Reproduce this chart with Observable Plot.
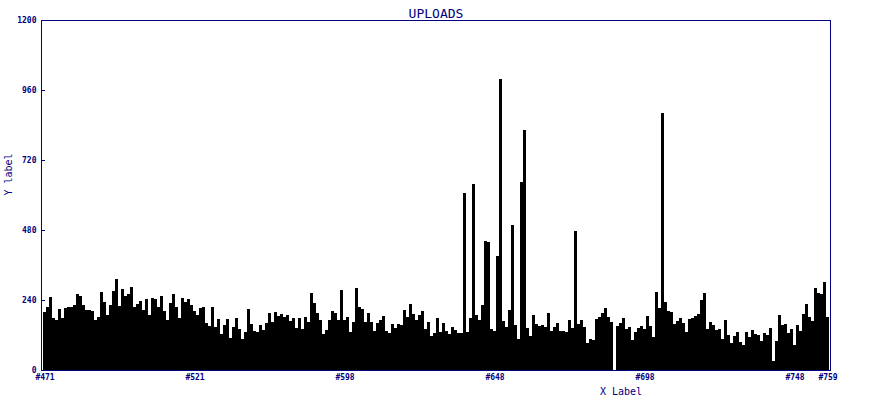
<!DOCTYPE html>
<html><head><meta charset="utf-8">
<script src="https://cdn.jsdelivr.net/npm/d3@7"></script>
<script src="https://cdn.jsdelivr.net/npm/@observablehq/plot@0.6"></script>
<style>body{margin:0;background:#fff} svg{display:block}</style>
</head><body><div id="chart"></div>
<script>
const uploads = [
  199,215,250,179,173,209,179,211,215,215,223,261,254,223,206,206,202,171,182,267,233,189,223,272,312,219,278,254,261,
  285,215,225,237,206,242,189,248,243,217,254,202,171,231,261,215,177,248,234,243,223,202,189,211,215,161,151,215,149,175,123,154,175,
  111,
  149,179,141,106,131,209,158,134,129,154,137,162,194,163,198,185,192,181,188,169,177,145,179,141,181,163,264,230,195,171,123,137,
  171,
  202,194,171,274,171,182,131,166,281,216,209,166,195,166,135,161,171,185,134,127,158,145,158,154,206,183,226,192,171,189,202,141,164,
  118,126,178,129,160,133,123,147,137,127,127,608,130,178,638,189,171,223,442,439,142,135,391,998,169,147,206,497,154,107,645,823,145,
  117,
  189,158,151,154,149,194,134,146,160,134,134,130,171,144,477,158,171,146,93,107,104,175,183,194,213,183,166,0,151,161,179,142,
  146,
  103,131,145,152,141,185,151,114,267,214,881,233,202,199,158,168,178,161,130,175,178,186,192,240,264,141,165,154,137,141,106,171,120,
  93,117,130,96,86,130,114,137,123,120,99,127,120,144,31,99,189,154,158,127,141,86,154,134,192,226,182,168,281,264,261,302,182
];
const tickIndex = [0, 50, 100, 150, 200, 250, 261];
const tickLabels = ["#471", "#521", "#598", "#648", "#698", "#748", "#759"];
const yTicks = [0, 240, 480, 720, 960, 1200];
const title = "UPLOADS", xLabel = "X Label", yLabel = "Y label";
const navy = "#000080";

const data = uploads.map((v, i) => ({i, v}));
const chart = Plot.plot({
  width: 872, height: 400,
  marginLeft: 41, marginRight: 42, marginTop: 20, marginBottom: 30,
  style: {fontFamily: "DejaVu Sans Mono", fontSize: "8px", color: navy, background: "white"},
  x: {type: "band", domain: d3.range(uploads.length), padding: 0, insetLeft: 2, insetRight: 1},
  y: {domain: [0, 1200]},
  marks: [
    Plot.barY(data, {x: "i", y: "v", fill: "black", inset: 0, shapeRendering: "crispEdges"}),
    Plot.ruleY(yTicks, {stroke: navy, insetRight: 785, shapeRendering: "crispEdges"}),
    Plot.frame({stroke: navy, shapeRendering: "crispEdges"}),
    Plot.axisY({ticks: yTicks, tickFormat: d => String(d), tickSize: 0, tickPadding: 5, label: null, fontWeight: "bold"}),
    Plot.axisX({ticks: tickIndex, tickFormat: i => tickLabels[tickIndex.indexOf(i)], tickSize: 0, tickPadding: 4, label: null, fontWeight: "bold"}),
    Plot.text([title], {frameAnchor: "top", dy: -12, fontSize: 13, fill: navy}),
    Plot.text([xLabel], {frameAnchor: "bottom", dy: 24, dx: 185, fontSize: 10, fill: navy}),
    Plot.text([yLabel], {frameAnchor: "left", dx: -33, rotate: -90, fontSize: 10, fill: navy})
  ]
});
document.getElementById("chart").appendChild(chart);
</script>
</body></html>
